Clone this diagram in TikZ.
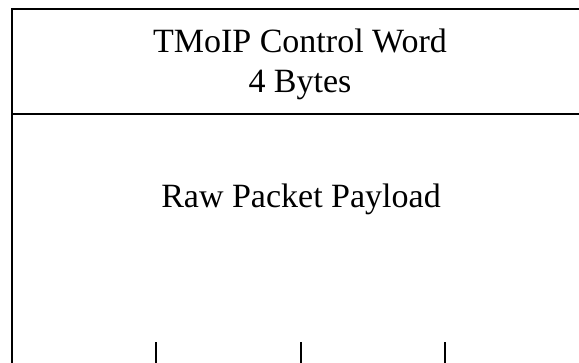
\documentclass[tikz,border=0pt]{standalone}
\usepackage{fontspec}
\setmainfont{Liberation Serif}
\tikzset{
  frameline/.style={line width=1.8pt,line cap=rect},
  fieldtext/.style={font=\fontsize{34}{40}\selectfont,align=center,inner sep=0pt},
}
\begin{document}
\begin{tikzpicture}[x=1pt,y=-1pt]
  \useasboundingbox (0,0) rectangle (579,363);
  % packet frame, open at the bottom
  \draw[frameline] (12,363) -- (12,9) -- (579,9);
  \draw[frameline] (12,114) -- (579,114);
  % ticks along the cut edge
  \foreach \tx in {156,301,445}
    \draw[frameline] (\tx,343) -- (\tx,363);
  \node[fieldtext] (ctrlword) at (300,64) {TMoIP Control Word\\4 Bytes};
  \node[fieldtext,anchor=base] (payload) at (301,208) {Raw Packet Payload};
\end{tikzpicture}
\end{document}
